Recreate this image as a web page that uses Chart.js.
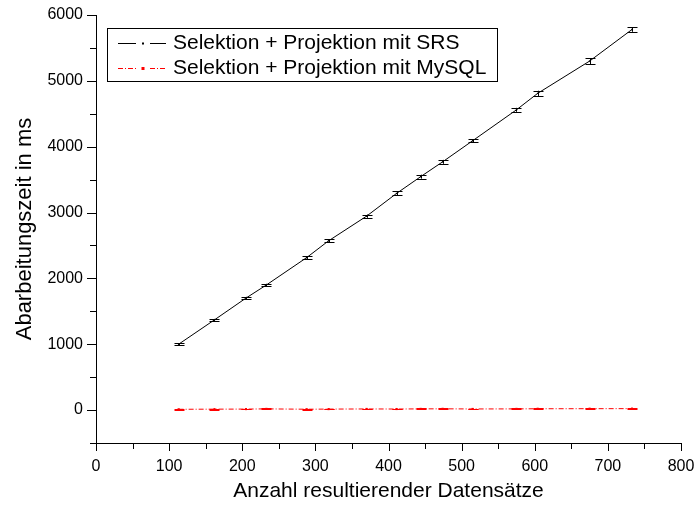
<!DOCTYPE html>
<html><head><meta charset="utf-8">
<script src="https://cdn.jsdelivr.net/npm/chart.js@4.4.1/dist/chart.umd.min.js"></script>
<style>html,body{margin:0;padding:0;background:#fff}#c{display:block}</style>
</head><body>
<canvas id="c" width="694" height="510"></canvas>
<script>
const seriesLabels = ['Selektion + Projektion mit SRS', 'Selektion + Projektion mit MySQL'];
const recordCounts = [113, 162, 205, 233, 288, 318, 370, 411, 444, 474, 515, 575, 604, 675, 733];
const srsTimes   = [1000, 1370, 1700, 1900, 2315, 2570, 2945, 3290, 3545, 3770, 4090, 4560, 4810, 5300, 5780];
const srsErrors  = [12, 15, 20, 18, 20, 22, 25, 30, 30, 30, 25, 30, 40, 45, 35];
const mysqlTimes = [12, 14, 15, 18, 13, 15, 17, 16, 18, 19, 17, 18, 20, 21, 22];
const mysqlErrors= [6, 6, 6, 6, 6, 6, 6, 6, 6, 6, 6, 6, 6, 6, 6];
const xAxisTitle = 'Anzahl resultierender Datensätze';
const yAxisTitle = 'Abarbeitungszeit in ms';

const FONT = '"Liberation Sans", Arial, sans-serif';

function pts(ys){ return recordCounts.map((x,i)=>({x:x, y:ys[i]})); }

const errorBarPlugin = {
  id:'errorBars',
  afterDatasetsDraw(chart){
    const ctx = chart.ctx;
    const xs = chart.scales.x, ys = chart.scales.y;
    chart.data.datasets.forEach((ds)=>{
      if(!ds.errors) return;
      ctx.save();
      ctx.strokeStyle = ds.borderColor; ctx.lineWidth = 1;
      ds.data.forEach((p,i)=>{
        const px = Math.round(xs.getPixelForValue(p.x))+0.5;
        const y1 = ys.getPixelForValue(p.y + ds.errors[i]);
        const y2 = ys.getPixelForValue(p.y - ds.errors[i]);
        ctx.beginPath();
        ctx.moveTo(px, y1); ctx.lineTo(px, y2);
        ctx.moveTo(px-5, Math.round(y1)+0.5); ctx.lineTo(px+5, Math.round(y1)+0.5);
        ctx.moveTo(px-5, Math.round(y2)+0.5); ctx.lineTo(px+5, Math.round(y2)+0.5);
        ctx.stroke();
      });
      ctx.restore();
    });
  }
};

const tickPlugin = {
  id:'tickMarks',
  afterDraw(chart){
    const ctx = chart.ctx;
    const xs = chart.scales.x, ys = chart.scales.y;
    const a = chart.chartArea;
    ctx.save();
    ctx.strokeStyle = '#000'; ctx.lineWidth = 1;
    ctx.beginPath();
    xs.ticks.forEach(t=>{
      const px = Math.round(xs.getPixelForValue(t.value))+0.5;
      const len = (t.value % 100 === 0) ? 8 : 6;
      ctx.moveTo(px, a.bottom); ctx.lineTo(px, a.bottom+len);
    });
    ys.ticks.forEach(t=>{
      const py = Math.round(ys.getPixelForValue(t.value))+0.5;
      const len = (t.value % 1000 === 0) ? 9 : 6;
      ctx.moveTo(a.left, py); ctx.lineTo(a.left-len, py);
    });
    ctx.stroke();
    ctx.restore();
  }
};

const legendPlugin = {
  id:'boxLegend',
  afterDraw(chart){
    const ctx = chart.ctx;
    ctx.save();
    ctx.strokeStyle = '#000'; ctx.lineWidth = 1;
    ctx.strokeRect(107.5, 28.5, 390, 53);
    ctx.font = '21px ' + FONT;
    ctx.textBaseline = 'middle';
    ctx.fillStyle = '#000';
    const rows = [43, 68];
    chart.data.datasets.forEach((ds,i)=>{
      const y = rows[i] + 0.5;
      ctx.strokeStyle = ds.borderColor;
      ctx.setLineDash(ds.borderDash || []);
      ctx.beginPath();
      ctx.moveTo(118, y); ctx.lineTo(136, y);
      ctx.moveTo(150, y); ctx.lineTo(166, y);
      ctx.stroke();
      ctx.setLineDash([]);
      ctx.fillStyle = ds.borderColor;
      const s = i===0 ? 2 : 3;
      ctx.fillRect(143 - s/2, rows[i] - s/2 + 0.5, s, s);
      ctx.fillStyle = '#000';
      ctx.fillText(ds.label, 173, rows[i]);
    });
    ctx.restore();
  }
};

new Chart(document.getElementById('c'), {
  type:'scatter',
  data:{
    datasets:[
      {label: seriesLabels[0], data: pts(srsTimes), errors: srsErrors, showLine:true,
       borderColor:'#000000', backgroundColor:'#000000', borderWidth:1,
       pointStyle:'rect', pointRadius:1, pointBorderWidth:0},
      {label: seriesLabels[1], data: pts(mysqlTimes), errors: mysqlErrors, showLine:true,
       borderColor:'#ff0000', backgroundColor:'#ff0000', borderWidth:1, borderDash:[5,2,1,2],
       pointStyle:'rect', pointRadius:1.5, pointBorderWidth:0}
    ]
  },
  options:{
    responsive:false, animation:false,
    layout:{padding:{top:15, right:13, left:0, bottom:0}},
    plugins:{legend:{display:false}, tooltip:{enabled:false}},
    scales:{
      x:{type:'linear', min:0, max:800,
         grid:{display:true, drawOnChartArea:false, drawTicks:false},
         border:{display:true, color:'#000', width:1},
         ticks:{stepSize:50, autoSkip:false, maxRotation:0, padding:14, color:'#000',
                font:{family:FONT, size:16},
                callback:(v)=> v % 100 === 0 ? String(v) : ''},
         title:{display:true, text:xAxisTitle, color:'#000', font:{family:FONT, size:21}, padding:{top:0,bottom:6}},
         afterFit:(s)=>{ s.height = 67; s.paddingLeft = 0; s.paddingRight = 0; }
      },
      y:{type:'linear', min:-500, max:6000,
         grid:{display:true, drawOnChartArea:false, drawTicks:false},
         border:{display:true, color:'#000', width:1},
         ticks:{stepSize:500, autoSkip:false, padding:13, color:'#000',
                font:{family:FONT, size:16},
                callback:(v)=> v % 1000 === 0 ? String(v) : ''},
         title:{display:true, text:yAxisTitle, color:'#000', font:{family:FONT, size:22}, padding:{top:12,bottom:0}},
         afterFit:(s)=>{ s.width = 96; s.paddingTop = 0; s.paddingBottom = 0; }
      }
    }
  },
  plugins:[errorBarPlugin, tickPlugin, legendPlugin]
});
</script>
</body></html>
